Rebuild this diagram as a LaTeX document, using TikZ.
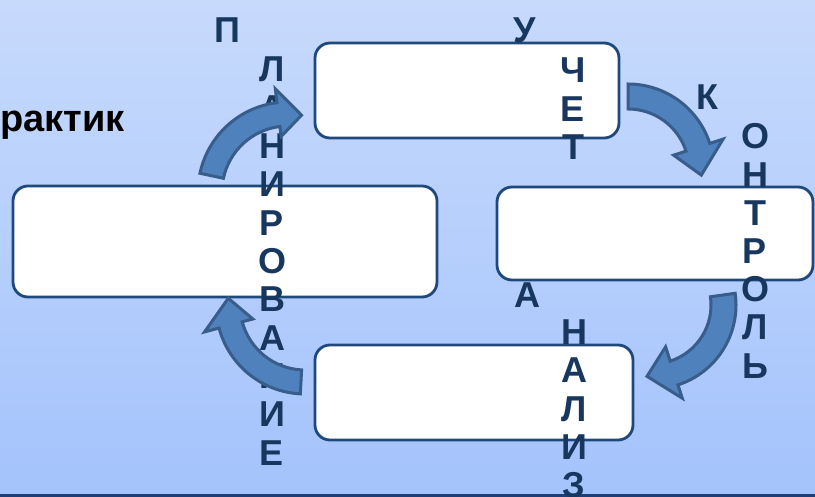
\documentclass[tikz,border=0pt]{standalone}
\usepackage{fontspec}
\setmainfont{Liberation Sans}
\usetikzlibrary{calc}
\definecolor{bgtop}{RGB}{199,218,252}
\definecolor{bgbot}{RGB}{164,195,252}
\definecolor{boxline}{RGB}{31,73,125}
\definecolor{lettercol}{RGB}{23,55,94}
\definecolor{arrfill}{RGB}{79,129,189}
\definecolor{arrline}{RGB}{56,93,138}
\definecolor{bottomcol}{RGB}{30,62,120}
\tikzset{
  roundbox/.style={draw=boxline, fill=white, line width=2.8pt, rounded corners=15pt, inner sep=0pt},
  ltr/.style={anchor=base, inner sep=0pt, text=lettercol, font=\fontsize{36}{36}\selectfont\bfseries},
  arrowstyle/.style={draw=arrline, fill=arrfill, line width=3pt, line join=miter},
}
\newcommand{\blockarrow}[9]{%
  \draw[arrowstyle] ($(#1,#2)+(#5:#4)$) arc[start angle=#5, end angle=#6, radius=#4]
   -- ($(#1,#2)+(#6:#9)$) -- ($(#1,#2)+(#7:{(#3+#4)/2})$) -- ($(#1,#2)+(#6:#8)$)
   -- ($(#1,#2)+(#6:#3)$) arc[start angle=#6, end angle=#5, radius=#3] -- cycle;}
\begin{document}
\begin{tikzpicture}[x=1pt,y=1pt]
\useasboundingbox (0,-497) rectangle (815,0);
\shade[top color=bgtop, bottom color=bgbot] (0,-497) rectangle (815,0);
\begin{scope}[yscale=-1]
% bottom rule
\draw[bottomcol, line width=2.5pt] (0,495.5) -- (815,495.5);
% text at left
\node[anchor=base east, inner sep=0pt, font=\fontsize{38}{38}\selectfont\bfseries] (prakt) at (125,132) {рактик};
% boxes
\node[roundbox, minimum width=304pt, minimum height=95pt] (uchet) at (467,90.5) {};
\node[roundbox, minimum width=424pt, minimum height=111pt] (plan) at (225,241.5) {};
\node[roundbox, minimum width=316pt, minimum height=93pt] (kontr) at (655,233.5) {};
\node[roundbox, minimum width=318pt, minimum height=95pt] (anal) at (474,392.5) {};
% vertical words
\node[ltr] (plP) at (227,43) {П};
\foreach \ch [count=\i] in {Л,А,Н,И,Р,О,В,А,Н,И,Е}
  \node[ltr] (pl\i) at (272,{82+38.3*(\i-1)}) {\ch};
\node[ltr] (ucU) at (525,43) {У};
\foreach \ch [count=\i] in {Ч,Е,Т}
  \node[ltr] (uc\i) at (573,{83+38.5*(\i-1)}) {\ch};
\node[ltr] (koK) at (707,110) {К};
\foreach \ch [count=\i] in {О,Н,Т,Р,О,Л,Ь}
  \node[ltr] (ko\i) at (755,{149+38.2*(\i-1)}) {\ch};
\node[ltr] (anA) at (527,308) {А};
\foreach \ch [count=\i] in {Н,А,Л,И,З}
  \node[ltr] (an\i) at (574,{345+38*(\i-1)}) {\ch};
% curved block arrows
\blockarrow{288}{192}{66}{90}{192}{263}{280}{56}{104}
\blockarrow{628}{170}{61}{86}{270}{342}{364}{48}{100}
\blockarrow{652}{305}{59}{84}{-8}{72}{94}{44}{98}
\blockarrow{305}{305}{65}{89}{93}{165}{185}{54}{104}
\end{scope}
\end{tikzpicture}
\end{document}
